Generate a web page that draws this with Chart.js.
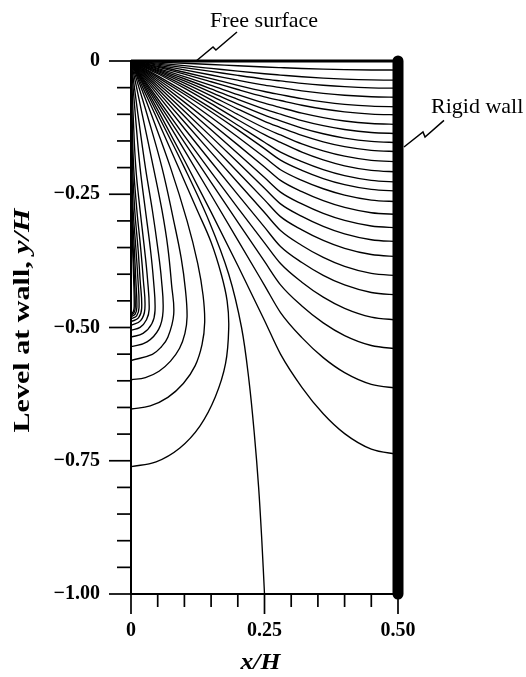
<!DOCTYPE html>
<html>
<head>
<meta charset="utf-8">
<script src="https://cdn.jsdelivr.net/npm/chart.js@4.4.0/dist/chart.umd.min.js"></script>
<style>
  html, body { margin: 0; padding: 0; background: #ffffff; }
  canvas { display: block; }
</style>
</head>
<body>
<canvas id="c" width="526" height="677"></canvas>
<script>
// ---------------- data ----------------
const xTickValues = [0, 0.25, 0.5];
const xTickLabels = ['0', '0.25', '0.50'];
const yTickValues = [0, -0.25, -0.5, -0.75, -1];
const yTickLabels = ['0', '\u22120.25', '\u22120.50', '\u22120.75', '\u22121.00'];
const minorStep = 0.05;

// level at which each contour meets the rigid wall (x/H = 0.5)
const wallLevels = [-0.017, -0.036, -0.051, -0.068, -0.086, -0.101, -0.119, -0.136, -0.153,
  -0.170, -0.189, -0.208, -0.227, -0.244, -0.264, -0.288, -0.313, -0.339, -0.367, -0.403,
  -0.439, -0.486, -0.540, -0.614, -0.738];

// x stations of the contours running from the corner to the wall (last station = wall)
const fanX = [0, 0.02, 0.05, 0.1, 0.15, 0.2, 0.25, 0.28, 0.32, 0.36, 0.4, 0.45, 0.5];
// y of each of those contours at the stations before the wall
const fanY = [
  [0, -0.0008, -0.002, -0.0042, -0.0065, -0.009, -0.0113, -0.0125, -0.014, -0.0152, -0.0161, -0.0168],
  [0, -0.0016, -0.0041, -0.0088, -0.0139, -0.0191, -0.0239, -0.0264, -0.0296, -0.0321, -0.034, -0.0355],
  [0, -0.0023, -0.0059, -0.0125, -0.0196, -0.027, -0.0339, -0.0374, -0.0419, -0.0455, -0.0482, -0.0503],
  [0, -0.0031, -0.0078, -0.0167, -0.0262, -0.036, -0.0452, -0.0499, -0.0559, -0.0607, -0.0643, -0.067],
  [0, -0.0039, -0.0099, -0.0211, -0.0331, -0.0456, -0.0572, -0.0631, -0.0707, -0.0767, -0.0813, -0.0848],
  [0, -0.0045, -0.0116, -0.0247, -0.0389, -0.0535, -0.0672, -0.0741, -0.083, -0.0901, -0.0954, -0.0996],
  [0, -0.0054, -0.0137, -0.0292, -0.0458, -0.0631, -0.0791, -0.0873, -0.0978, -0.1061, -0.1125, -0.1173],
  [0, -0.0061, -0.0156, -0.0333, -0.0524, -0.0721, -0.0904, -0.0998, -0.1118, -0.1213, -0.1285, -0.1341],
  [0, -0.0069, -0.0176, -0.0375, -0.0589, -0.0811, -0.1017, -0.1123, -0.1258, -0.1365, -0.1446, -0.1509],
  [0, -0.0077, -0.0196, -0.0417, -0.0655, -0.0901, -0.1131, -0.1248, -0.1397, -0.1516, -0.1607, -0.1676],
  [0, -0.0085, -0.0217, -0.0463, -0.0728, -0.1002, -0.1257, -0.1387, -0.1554, -0.1686, -0.1786, -0.1864],
  [0, -0.0094, -0.0239, -0.051, -0.0801, -0.1102, -0.1383, -0.1527, -0.171, -0.1855, -0.1966, -0.2051],
  [0, -0.011, -0.028, -0.0575, -0.0885, -0.1205, -0.1525, -0.171, -0.1889, -0.2039, -0.2152, -0.224],
  [0, -0.0121, -0.0306, -0.0624, -0.0952, -0.1292, -0.1644, -0.186, -0.2052, -0.2205, -0.232, -0.241],
  [0, -0.0136, -0.0342, -0.0694, -0.1056, -0.1426, -0.1807, -0.204, -0.2239, -0.2397, -0.2516, -0.2609],
  [0, -0.0152, -0.0381, -0.0771, -0.1168, -0.1574, -0.1988, -0.224, -0.2452, -0.2621, -0.2748, -0.2847],
  [0, -0.0168, -0.0423, -0.0853, -0.1291, -0.1735, -0.2186, -0.246, -0.2682, -0.2859, -0.2991, -0.3095],
  [0, -0.0187, -0.0469, -0.0942, -0.1419, -0.1901, -0.2387, -0.268, -0.2915, -0.3102, -0.3243, -0.3353],
  [0, -0.0207, -0.0519, -0.1038, -0.1559, -0.2082, -0.2605, -0.292, -0.3168, -0.3366, -0.3515, -0.3631],
  [0, -0.023, -0.0574, -0.1145, -0.1714, -0.228, -0.2843, -0.318, -0.3461, -0.3686, -0.3854, -0.3986],
  [0, -0.0255, -0.0637, -0.1267, -0.189, -0.2507, -0.3117, -0.348, -0.3781, -0.4021, -0.4202, -0.4343],
  [0, -0.0285, -0.0708, -0.1403, -0.2085, -0.2755, -0.3412, -0.38, -0.4151, -0.4431, -0.4641, -0.4805],
  [0, -0.0307, -0.0766, -0.1526, -0.2278, -0.3023, -0.3761, -0.42, -0.4597, -0.4914, -0.5152, -0.5338],
  [0, -0.0333, -0.0834, -0.1672, -0.2514, -0.3359, -0.4209, -0.472, -0.519, -0.5565, -0.5846, -0.6066],
  [0, -0.0363, -0.0916, -0.1861, -0.2835, -0.3837, -0.4868, -0.55, -0.6122, -0.6619, -0.6991, -0.7282]
];

// dividing contour: from the corner down to the bottom at x/H = 0.25
const dividingLine = [[0, 0], [0.02, -0.04], [0.05, -0.1], [0.1, -0.2], [0.146, -0.3], [0.183, -0.4],
  [0.207, -0.5], [0.221, -0.6], [0.231, -0.7], [0.239, -0.8], [0.245, -0.9], [0.25, -1.0]];

// closed-back contours: from the corner round to the lower part of x/H = 0
const loopPaths = [
  [[0, 0], [0.022, -0.05], [0.045, -0.1], [0.089, -0.2], [0.124, -0.28], [0.15, -0.34], [0.169, -0.4], [0.18, -0.45], [0.183, -0.5], [0.177, -0.568], [0.158, -0.63], [0.129, -0.685], [0.0915, -0.726], [0.047, -0.752], [0, -0.761]],
  [[0, 0], [0.019, -0.05], [0.038, -0.1], [0.074, -0.2], [0.105, -0.3], [0.125, -0.38], [0.135, -0.44], [0.138, -0.49], [0.133, -0.532], [0.12, -0.572], [0.098, -0.605], [0.069, -0.631], [0.036, -0.647], [0, -0.653]],
  [[0, 0], [0.015, -0.05], [0.03, -0.1], [0.058, -0.2], [0.08, -0.3], [0.094, -0.37], [0.102, -0.43], [0.105, -0.48], [0.101, -0.511], [0.091, -0.539], [0.074, -0.563], [0.0525, -0.582], [0.027, -0.594], [0, -0.598]],
  [[0, 0], [0.021, -0.1], [0.042, -0.2], [0.058, -0.28], [0.069, -0.35], [0.076, -0.42], [0.08, -0.475], [0.069, -0.5185], [0.0566, -0.5365], [0.04, -0.5503], [0, -0.562]],
  [[0, 0], [0.013, -0.1], [0.027, -0.2], [0.04, -0.28], [0.05, -0.35], [0.057, -0.41], [0.06, -0.47], [0.052, -0.503], [0.03, -0.527], [0, -0.536]],
  [[0, 0], [0.008, -0.1], [0.017, -0.2], [0.027, -0.28], [0.036, -0.35], [0.042, -0.41], [0.045, -0.468], [0.039, -0.493], [0.0225, -0.511], [0, -0.518]],
  [[0, 0], [0.004, -0.1], [0.009, -0.2], [0.017, -0.28], [0.025, -0.35], [0.031, -0.41], [0.034, -0.466], [0.029, -0.4855], [0.017, -0.4998], [0, -0.505]],
  [[0, 0], [0.002, -0.1], [0.005, -0.2], [0.011, -0.28], [0.018, -0.35], [0.023, -0.41], [0.026, -0.465], [0.018, -0.487], [0, -0.496]],
  [[0, 0], [0.001, -0.1], [0.003, -0.2], [0.007, -0.28], [0.013, -0.35], [0.017, -0.41], [0.02, -0.464], [0.014, -0.482], [0, -0.489]],
  [[0, 0], [0.0015, -0.2], [0.004, -0.28], [0.009, -0.35], [0.013, -0.41], [0.015, -0.463], [0.0106, -0.478], [0, -0.484]],
  [[0, 0], [0.001, -0.2], [0.0025, -0.28], [0.006, -0.35], [0.009, -0.41], [0.011, -0.462], [0.0078, -0.475], [0, -0.48]],
  [[0, 0], [0.0005, -0.2], [0.0015, -0.28], [0.004, -0.35], [0.0065, -0.41], [0.008, -0.461], [0.0057, -0.4723], [0, -0.477]],
  [[0, 0], [0.001, -0.28], [0.003, -0.35], [0.005, -0.41], [0.006, -0.46], [0.0042, -0.4706], [0, -0.475]]
];

// boundaries
const freeSurface = [[0, 0], [0.5, 0]];
const rigidWall = [[0.5, 0], [0.5, -1]];

// annotations (data units)
const freeSurfaceLabel = { text: 'Free surface', x: 0.148, y: 0.064 };
const freeSurfaceArrow = [[0.122, 0], [0.1536, 0.0263], [0.159, 0.0206], [0.1985, 0.0544]];
const rigidWallLabel = { text: 'Rigid wall', x: 0.5618, y: -0.0976 };
const rigidWallArrow = [[0.5112, -0.1614], [0.5468, -0.1332], [0.5506, -0.1426], [0.5861, -0.1114]];

// ---------------- build chart ----------------
const toPts = arr => arr.map(p => ({ x: p[0], y: p[1] }));
const datasets = [];

datasets.push({ data: toPts(rigidWall), borderColor: '#000', borderWidth: 11, borderCapStyle: 'round', clip: false });
datasets.push({ data: toPts(freeSurface), borderColor: '#000', borderWidth: 3.2, clip: false });

fanY.forEach((row, i) => {
  const pts = fanX.map((xv, j) => ({ x: xv, y: j < row.length ? row[j] : wallLevels[i] }));
  datasets.push({ data: pts, borderColor: '#000', borderWidth: 1.35, cubicInterpolationMode: 'monotone' });
});
datasets.push({ data: toPts(dividingLine), borderColor: '#000', borderWidth: 1.35, tension: 0.35 });
loopPaths.forEach(path => {
  datasets.push({ data: toPts(path), borderColor: '#000', borderWidth: 1.35, tension: 0.4 });
});

const serif = '"Liberation Serif", "Times New Roman", serif';

const decor = {
  id: 'decor',
  afterDraw(chart) {
    const { ctx, chartArea: ca, scales } = chart;
    const sx = scales.x, sy = scales.y;
    ctx.save();
    ctx.strokeStyle = '#000';
    ctx.fillStyle = '#000';
    ctx.lineWidth = 1.7;
    ctx.lineCap = 'butt';
    // x ticks (outside, below)
    const axisY = sy.getPixelForValue(-1);
    for (let k = 0; k <= 10; k++) {
      const px = sx.getPixelForValue(k * minorStep);
      const major = k % 5 === 0;
      ctx.beginPath(); ctx.moveTo(px, axisY); ctx.lineTo(px, axisY + (major ? 20 : 13)); ctx.stroke();
    }
    // y ticks (outside, left)
    const axisX = sx.getPixelForValue(0);
    for (let k = 0; k <= 20; k++) {
      const py = sy.getPixelForValue(-k * minorStep);
      const major = k % 5 === 0;
      ctx.beginPath(); ctx.moveTo(axisX, py); ctx.lineTo(axisX - (major ? 22 : 14), py); ctx.stroke();
    }
    // leader lines
    ctx.lineWidth = 1.5;
    ctx.lineJoin = 'miter';
    [freeSurfaceArrow, rigidWallArrow].forEach(arr => {
      ctx.beginPath();
      arr.forEach((p, i) => {
        const X = sx.getPixelForValue(p[0]), Y = sy.getPixelForValue(p[1]);
        if (i === 0) ctx.moveTo(X, Y); else ctx.lineTo(X, Y);
      });
      ctx.stroke();
    });
    // annotation labels
    ctx.font = '22px ' + serif;
    ctx.textAlign = 'left';
    ctx.textBaseline = 'alphabetic';
    [freeSurfaceLabel, rigidWallLabel].forEach(l => {
      ctx.fillText(l.text, sx.getPixelForValue(l.x), sy.getPixelForValue(l.y));
    });
    // x title
    ctx.save();
    ctx.font = 'italic bold 23px ' + serif;
    const xt = 'x/H';
    const xw = ctx.measureText(xt).width;
    ctx.translate((ca.left + ca.right) / 2 - 4, ca.bottom + 75);
    ctx.scale(40 / xw, 1);
    ctx.textAlign = 'center';
    ctx.textBaseline = 'alphabetic';
    ctx.fillText(xt, 0, 0);
    ctx.restore();
    // y title
    ctx.save();
    const part1 = 'Level at wall, ';
    const part2 = 'y/H';
    ctx.font = 'bold 24px ' + serif;
    const w1 = ctx.measureText(part1).width;
    ctx.font = 'italic bold 24px ' + serif;
    const w2 = ctx.measureText(part2).width;
    const total = w1 + w2;
    ctx.translate(29, (ca.top + ca.bottom) / 2 - 7);
    ctx.rotate(-Math.PI / 2);
    ctx.scale(224 / total, 1);
    ctx.textAlign = 'left';
    ctx.textBaseline = 'alphabetic';
    ctx.font = 'bold 24px ' + serif;
    ctx.fillText(part1, -total / 2, 0);
    ctx.font = 'italic bold 24px ' + serif;
    ctx.fillText(part2, -total / 2 + w1, 0);
    ctx.restore();
    ctx.restore();
  }
};

new Chart(document.getElementById('c').getContext('2d'), {
  type: 'scatter',
  data: { datasets: datasets.map(d => Object.assign({ showLine: true, pointRadius: 0, pointHoverRadius: 0, fill: false }, d)) },
  options: {
    responsive: false,
    animation: false,
    events: [],
    layout: { padding: { left: 0, top: 61, right: 128, bottom: 0 } },
    plugins: { legend: { display: false }, tooltip: { enabled: false } },
    scales: {
      x: {
        type: 'linear', min: 0, max: 0.5,
        afterFit(s) { s.height = 83; },
        afterBuildTicks(s) { s.ticks = xTickValues.map(v => ({ value: v })); },
        grid: { display: false, drawTicks: false },
        border: { display: true, color: '#000', width: 2 },
        ticks: {
          padding: 25, color: '#000', maxRotation: 0,
          font: { family: 'Liberation Serif', size: 20, weight: 'bold' },
          callback: (v) => xTickLabels[xTickValues.indexOf(v)]
        }
      },
      y: {
        type: 'linear', min: -1, max: 0,
        afterFit(s) { s.width = 131; },
        afterBuildTicks(s) { s.ticks = yTickValues.map(v => ({ value: v })); },
        grid: { display: false, drawTicks: false },
        border: { display: true, color: '#000', width: 2 },
        ticks: {
          padding: 31, color: '#000',
          font: { family: 'Liberation Serif', size: 20, weight: 'bold' },
          callback: (v) => yTickLabels[yTickValues.indexOf(v)]
        }
      }
    }
  },
  plugins: [decor]
});
</script>
</body>
</html>
